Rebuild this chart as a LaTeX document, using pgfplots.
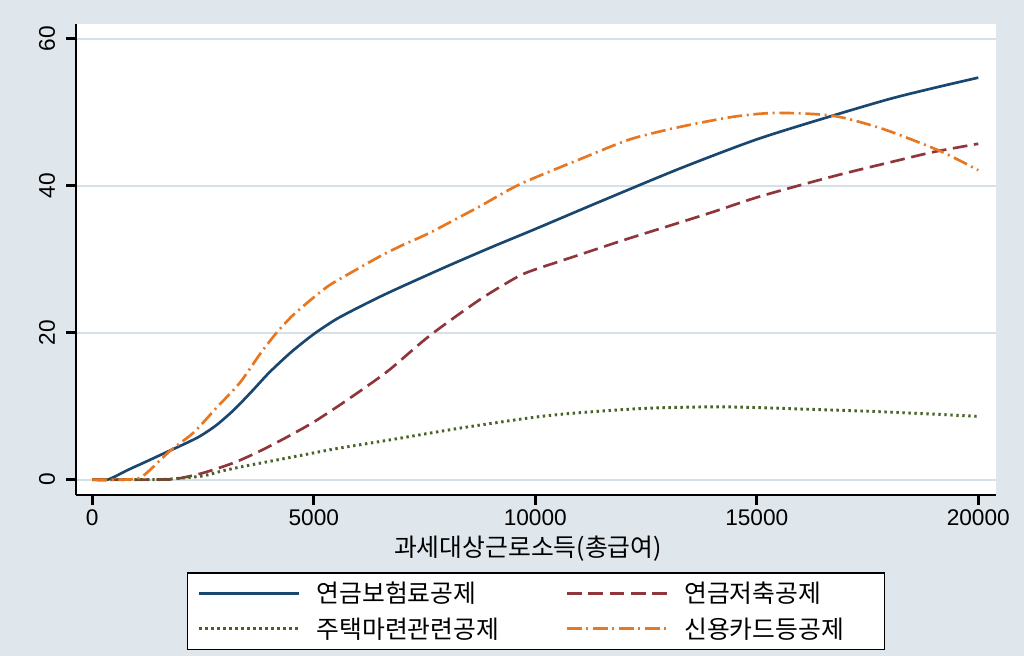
\documentclass[border=0pt]{standalone}
\usepackage{fontspec}
\setmainfont{Liberation Sans}
\newfontfamily\kr{Noto Sans CJK KR}
\usepackage{pgfplots}
\pgfplotsset{compat=1.18}
\definecolor{bgc}{RGB}{223,231,236}
\definecolor{gridc}{RGB}{214,225,231}
\definecolor{snavy}{RGB}{26,71,111}
\definecolor{smaroon}{RGB}{144,53,59}
\definecolor{sgreen}{RGB}{85,117,47}
\definecolor{sorange}{RGB}{232,119,34}
\begin{document}
\begin{tikzpicture}
\fill[bgc] (-57pt,-120.75pt) rectangle (711pt,371.25pt);
\begin{axis}[
  at={(0,0)}, anchor=south west,
  scale only axis, width=690pt, height=353.25pt,
  xmin=-368, xmax=20400, ymin=-2.1, ymax=62.0,
  axis x line*=bottom, axis y line*=left,
  axis line style={line width=2pt, black, -},
  axis background/.style={fill=white},
  xtick={0,5000,10000,15000,20000}, ytick={0,20,40,60},
  scaled x ticks=false,
  /pgf/number format/1000 sep={},
  /pgf/number format/assume math mode=true,
  tick align=outside, major tick length=7.5pt,
  tick style={line width=2pt, black},
  ymajorgrids, grid style={gridc, line width=1.6pt},
  tick label style={font=\fontsize{17}{20}\selectfont},
  yticklabel style={rotate=90, anchor=south, inner sep=8pt},
  xlabel={\kr 과세대상근로소득(총급여)},
  xlabel style={font=\fontsize{18.6}{22}\selectfont, at={(axis description cs:0.5,0)}, anchor=center, yshift=-40.5pt, xshift=-6pt, inner sep=0pt},
  legend columns=2,
  legend image code/.code={\draw[#1] (0pt,0pt) -- (75pt,0pt);},
  legend style={at={(0.5,0)}, anchor=north, yshift=-57.75pt,
    draw=black, line width=1.2pt, fill=white,
    inner xsep=7.5pt, inner ysep=7pt, row sep=9.5pt,
    nodes={inner sep=0pt, font=\fontsize{18.6}{22}\selectfont\kr},
    /tikz/every odd column/.append style={column sep=12pt}},
]
\addplot[snavy, line width=2pt, smooth, tension=0.45] coordinates {
(0,0) (350,0) (800,1.3) (1200,2.4) (1700,3.8) (2100,4.9) (2430,5.9) (2800,7.4)
(3200,9.5) (3600,12.0) (4000,14.6) (4500,17.4) (5000,19.8) (5500,21.8) (6000,23.4)
(6500,24.9) (7000,26.3) (8000,29.0) (9000,31.6) (10000,34.1) (11450,37.8)
(13250,42.3) (15000,46.3) (16700,49.5) (18000,51.8) (19000,53.3) (20000,54.7)};
\addlegendentry{\makebox[186.75pt][l]{연금보험료공제}}
\addplot[smaroon, line width=2pt, dash pattern=on 11pt off 5pt, smooth, tension=0.45] coordinates {
(0,0) (1500,0) (1900,0.1) (2500,0.9) (3200,2.3) (3790,3.9) (4400,5.8) (4990,7.8)
(5600,10.2) (6200,12.7) (6720,15.0) (7620,19.6) (8750,24.5) (9600,27.6) (10000,28.6)
(10500,29.6) (11000,30.6) (12000,32.6) (13270,35.0) (14000,36.4) (15000,38.4) (16000,40.1)
(17000,41.7) (18230,43.5) (19000,44.6) (20000,45.7)};
\addlegendentry{\makebox[142.5pt][l]{연금저축공제}}
\addplot[sgreen!85!black, line width=2.2pt, dash pattern=on 1.8pt off 2.7pt, smooth, tension=0.45] coordinates {
(0,0) (1500,0) (2000,0.2) (2500,0.5) (2950,1.2) (3500,1.9) (4460,3.0) (5500,4.2)
(6720,5.4) (8300,7.0) (10000,8.5) (11000,9.1) (12500,9.7) (14000,9.9) (15000,9.8)
(16000,9.6) (17500,9.3) (19000,8.9) (20000,8.6)};
\addlegendentry{\makebox[186.75pt][l]{주택마련관련공제}}
\addplot[sorange, line width=2pt, dash pattern=on 11pt off 3.5pt on 1.5pt off 3.5pt, smooth, tension=0.45] coordinates {
(0,0) (780,0) (1145,0.5) (1754,3.9) (2287,6.4) (2808,9.8) (3334,13.2) (3800,17.2)
(4162,20.0) (4500,22.2) (4763,23.6) (5000,24.8) (5366,26.5) (5968,28.6) (6500,30.4)
(7000,31.9) (7623,33.6) (8752,37.2) (9655,40.2) (11009,43.6) (12138,46.3) (13270,48.0)
(14500,49.4) (15450,49.9) (16730,49.5) (17855,47.7) (19142,44.7) (20000,42.1)};
\addlegendentry{\makebox[142.5pt][l]{신용카드등공제}}
\end{axis}
\end{tikzpicture}
\end{document}
